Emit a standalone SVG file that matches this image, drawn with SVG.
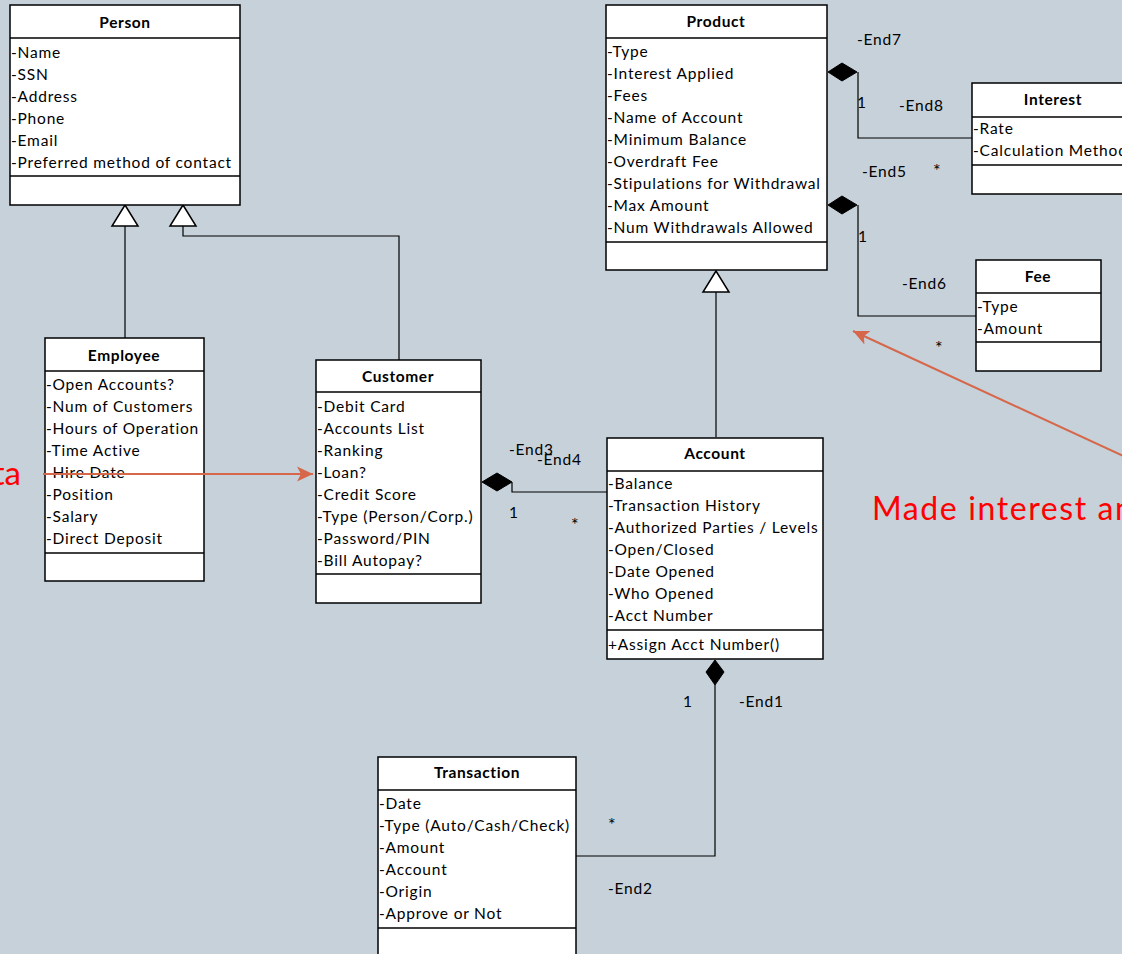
<svg xmlns="http://www.w3.org/2000/svg" width="1122" height="954" viewBox="0 0 1122 954">
<defs>
<style>
.box{fill:#fff;stroke:#000;stroke-width:1.5}
.div{stroke:#000;stroke-width:1.5}
.t{font-family:Lato,"Liberation Sans",sans-serif;font-size:15.5px;letter-spacing:0.8px;fill:#000}
.s{font-size:18px}
.h{font-family:Lato,"Liberation Sans",sans-serif;font-size:15.5px;letter-spacing:0.6px;font-weight:bold;fill:#000;text-anchor:middle}
.ln{fill:none;stroke:#000;stroke-width:1.2}
.gen{fill:#fff;stroke:#000;stroke-width:1.5}
.dia{fill:#000;stroke:#000;stroke-width:1}
.red{fill:none;stroke:#D6674A;stroke-width:2}
.rt{font-family:Lato,"Liberation Sans",sans-serif;font-size:32px;letter-spacing:1.6px;fill:#FF0000}
</style>
<marker id="ra" markerWidth="17" markerHeight="16" refX="16" refY="8" orient="auto" markerUnits="userSpaceOnUse" viewBox="0 0 17 16">
<path d="M0,0.5 L16,8 L0,15.5 L4,8 Z" fill="#D6674A"/>
</marker>
</defs>
<rect width="1122" height="954" fill="#C6D1D9"/>

<g id="connectors">
<!-- Employee -> Person -->
<line class="ln" x1="125" y1="338" x2="125" y2="226"/>
<polygon class="gen" points="125,205 112,226 138,226"/>
<!-- Customer -> Person -->
<polyline class="ln" points="399,360 399,236 183,236 183,226"/>
<polygon class="gen" points="183,205 170,226 196,226"/>
<!-- Account -> Product -->
<line class="ln" x1="716" y1="437" x2="716" y2="292"/>
<polygon class="gen" points="716,271 703,292 729,292"/>
<!-- Customer - Account composition -->
<polyline class="ln" points="512,482 512,492 608,492"/>
<polygon class="dia" points="482,482 497,473 512,482 497,491"/>
<!-- Product - Interest -->
<polyline class="ln" points="858,72 858,138 972,138"/>
<polygon class="dia" points="828,72 842,63 857,72 842,81"/>
<!-- Product - Fee -->
<polyline class="ln" points="858,205 858,316 976,316"/>
<polygon class="dia" points="828,205 842,196 857,205 842,214"/>
<!-- Account - Transaction -->
<polyline class="ln" points="715,685 715,856 576,856"/>
<polygon class="dia" points="715,660 724,672 715,685 706,672"/>
</g>

<g id="labels">
<text class="t" x="857" y="45">-End7</text>
<text class="t" x="857" y="108">1</text>
<text class="t" x="899" y="111">-End8</text>
<text class="t" x="862" y="177">-End5</text>
<text class="t s" x="933" y="177">*</text>
<text class="t" x="858" y="242">1</text>
<text class="t" x="902" y="289">-End6</text>
<text class="t s" x="935" y="354">*</text>
<text class="t" x="509" y="455">-End3</text>
<text class="t" x="537" y="465">-End4</text>
<text class="t" x="509" y="518">1</text>
<text class="t s" x="571" y="531">*</text>
<text class="t" x="683" y="707">1</text>
<text class="t" x="739" y="707">-End1</text>
<text class="t s" x="608" y="831">*</text>
<text class="t" x="608" y="894">-End2</text>
</g>

<g id="Person">
<rect class="box" x="10" y="5" width="230" height="200"/>
<line class="div" x1="10" y1="38" x2="240" y2="38"/>
<line class="div" x1="10" y1="176" x2="240" y2="176"/>
<text class="h" x="125" y="28">Person</text>
<text class="t" x="11" y="58">-Name</text>
<text class="t" x="11" y="80">-SSN</text>
<text class="t" x="11" y="102">-Address</text>
<text class="t" x="11" y="124">-Phone</text>
<text class="t" x="11" y="146">-Email</text>
<text class="t" x="11" y="168">-Preferred method of contact</text>
</g>

<g id="Employee">
<rect class="box" x="45" y="338" width="159" height="243"/>
<line class="div" x1="45" y1="371" x2="204" y2="371"/>
<line class="div" x1="45" y1="553" x2="204" y2="553"/>
<text class="h" x="124" y="361">Employee</text>
<text class="t" x="46" y="390">-Open Accounts?</text>
<text class="t" x="46" y="412">-Num of Customers</text>
<text class="t" x="46" y="434">-Hours of Operation</text>
<text class="t" x="46" y="456">-Time Active</text>
<text class="t" x="46" y="478">-Hire Date</text>
<text class="t" x="46" y="500">-Position</text>
<text class="t" x="46" y="522">-Salary</text>
<text class="t" x="46" y="544">-Direct Deposit</text>
</g>

<g id="Customer">
<rect class="box" x="316" y="360" width="165" height="243"/>
<line class="div" x1="316" y1="392" x2="481" y2="392"/>
<line class="div" x1="316" y1="574" x2="481" y2="574"/>
<text class="h" x="398" y="382">Customer</text>
<text class="t" x="317" y="412">-Debit Card</text>
<text class="t" x="317" y="434">-Accounts List</text>
<text class="t" x="317" y="456">-Ranking</text>
<text class="t" x="317" y="478">-Loan?</text>
<text class="t" x="317" y="500">-Credit Score</text>
<text class="t" x="317" y="522">-Type (Person/Corp.)</text>
<text class="t" x="317" y="544">-Password/PIN</text>
<text class="t" x="317" y="566">-Bill Autopay?</text>
</g>

<g id="Product">
<rect class="box" x="606" y="5" width="221" height="265"/>
<line class="div" x1="606" y1="38" x2="827" y2="38"/>
<line class="div" x1="606" y1="242" x2="827" y2="242"/>
<text class="h" x="716" y="27">Product</text>
<text class="t" x="607" y="57">-Type</text>
<text class="t" x="607" y="79">-Interest Applied</text>
<text class="t" x="607" y="101">-Fees</text>
<text class="t" x="607" y="123">-Name of Account</text>
<text class="t" x="607" y="145">-Minimum Balance</text>
<text class="t" x="607" y="167">-Overdraft Fee</text>
<text class="t" x="607" y="189">-Stipulations for Withdrawal</text>
<text class="t" x="607" y="211">-Max Amount</text>
<text class="t" x="607" y="233">-Num Withdrawals Allowed</text>
</g>

<g id="Interest">
<rect class="box" x="972" y="83" width="165" height="111"/>
<line class="div" x1="972" y1="117" x2="1137" y2="117"/>
<line class="div" x1="972" y1="165" x2="1137" y2="165"/>
<text class="h" x="1053" y="105">Interest</text>
<text class="t" x="973" y="134">-Rate</text>
<text class="t" x="973" y="156">-Calculation Method</text>
</g>

<g id="Fee">
<rect class="box" x="976" y="260" width="125" height="111"/>
<line class="div" x1="976" y1="293" x2="1101" y2="293"/>
<line class="div" x1="976" y1="342" x2="1101" y2="342"/>
<text class="h" x="1038" y="282">Fee</text>
<text class="t" x="977" y="312">-Type</text>
<text class="t" x="977" y="334">-Amount</text>
</g>

<g id="Account">
<rect class="box" x="607" y="438" width="216" height="221"/>
<line class="div" x1="607" y1="471" x2="823" y2="471"/>
<line class="div" x1="607" y1="630" x2="823" y2="630"/>
<text class="h" x="715" y="459">Account</text>
<text class="t" x="608" y="489">-Balance</text>
<text class="t" x="608" y="511">-Transaction History</text>
<text class="t" x="608" y="533">-Authorized Parties / Levels</text>
<text class="t" x="608" y="555">-Open/Closed</text>
<text class="t" x="608" y="577">-Date Opened</text>
<text class="t" x="608" y="599">-Who Opened</text>
<text class="t" x="608" y="621">-Acct Number</text>
<text class="t" x="608" y="650">+Assign Acct Number()</text>
</g>

<g id="Transaction">
<rect class="box" x="378" y="757" width="198" height="205"/>
<line class="div" x1="378" y1="790" x2="576" y2="790"/>
<line class="div" x1="378" y1="928" x2="576" y2="928"/>
<text class="h" x="477" y="778">Transaction</text>
<text class="t" x="379" y="809">-Date</text>
<text class="t" x="379" y="831">-Type (Auto/Cash/Check)</text>
<text class="t" x="379" y="853">-Amount</text>
<text class="t" x="379" y="875">-Account</text>
<text class="t" x="379" y="897">-Origin</text>
<text class="t" x="379" y="919">-Approve or Not</text>
</g>

<g id="annotations">
<line class="red" x1="43" y1="474" x2="313" y2="474" marker-end="url(#ra)"/>
<line class="red" x1="1132" y1="460" x2="853" y2="331" marker-end="url(#ra)"/>
<text x="21" y="485" font-family="Lato,'Liberation Sans',sans-serif" font-size="33" fill="#FF0000" text-anchor="end">ta</text>
<text class="rt" x="872" y="520">Made interest and</text>
</g>
</svg>
